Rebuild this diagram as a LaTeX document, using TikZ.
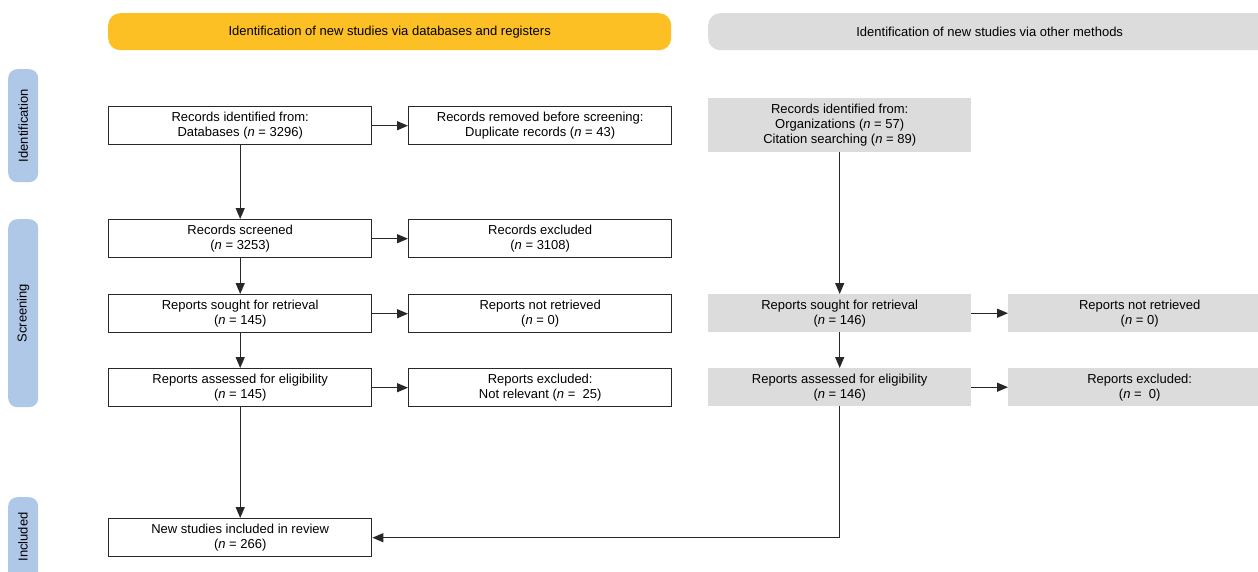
\documentclass[tikz,border=0pt]{standalone}
\usepackage{fontspec}
\setmainfont{Liberation Sans}
\usetikzlibrary{arrows.meta,positioning}
\definecolor{banyellow}{RGB}{253,192,36}
\definecolor{bangray}{RGB}{220,220,220}
\definecolor{phaseblue}{RGB}{175,200,232}
\definecolor{edgegray}{RGB}{40,40,40}
\tikzset{
  txt/.style={font=\fontsize{13}{15}\selectfont, align=center, text=black},
  wbox/.style={txt, draw=edgegray, line width=1.4pt, fill=white, anchor=north west,
    minimum width=263pt, minimum height=38pt, inner sep=0pt},
  gbox/.style={txt, fill=bangray, anchor=north west,
    minimum width=263pt, minimum height=38pt, inner sep=0pt},
  banner/.style={txt, rounded corners=12pt, anchor=north west, minimum height=37pt, inner sep=0pt},
  phase/.style={txt, fill=phaseblue, rounded corners=9pt, anchor=north west,
    minimum width=30pt, inner sep=0pt},
  conn/.style={draw=edgegray, line width=1.4pt, -{Triangle[length=11pt,width=9pt]}},
}
\newcommand{\nn}{\textit{n}}
\begin{document}
\begin{tikzpicture}[x=1pt,y=-1pt]
\useasboundingbox (0,0) rectangle (1258,571);
% banners
\node[banner, fill=banyellow, minimum width=563pt] (b1) at (108,13) {Identification of new studies via databases and registers};
\node[banner, fill=bangray, minimum width=563pt] (b2) at (708,13) {Identification of new studies via other methods};
% phases
\node[phase, minimum height=113pt] (p1) at (8,69) {};
\node[txt, rotate=90] (p1t) at (p1.center) {Identification};
\node[phase, minimum height=188pt] (p2) at (8,219) {};
\node[txt, rotate=90] (p2t) at (p2.center) {Screening};
\node[phase, minimum height=100pt] (p3) at (8,497) {};
\node[txt, rotate=90] (p3t) at (23,537) {Included};
% left column
\node[wbox] (idl) at (108,106) {Records identified from:\\Databases (\nn\ = 3296)};
\node[wbox] (rem) at (408,106) {Records removed before screening:\\Duplicate records (\nn\ = 43)};
\node[wbox] (scr) at (108,219) {Records screened\\(\nn\ = 3253)};
\node[wbox] (exc) at (408,219) {Records excluded\\(\nn\ = 3108)};
\node[wbox] (rsl) at (108,294) {Reports sought for retrieval\\(\nn\ = 145)};
\node[wbox] (nrl) at (408,294) {Reports not retrieved\\(\nn\ = 0)};
\node[wbox] (asl) at (108,368) {Reports assessed for eligibility\\(\nn\ = 145)};
\node[wbox] (rxl) at (408,368) {Reports excluded:\\Not relevant (\nn\ = \ 25)};
\node[wbox] (inc) at (108,518) {New studies included in review\\(\nn\ = 266)};
% right column
\node[gbox, minimum height=54pt] (ido) at (708,98) {Records identified from:\\Organizations (\nn\ = 57)\\Citation searching (\nn\ = 89)};
\node[gbox] (rso) at (708,294) {Reports sought for retrieval\\(\nn\ = 146)};
\node[gbox] (nro) at (1008,294) {Reports not retrieved\\(\nn\ = 0)};
\node[gbox] (aso) at (708,368) {Reports assessed for eligibility\\(\nn\ = 146)};
\node[gbox] (rxo) at (1008,368) {Reports excluded:\\(\nn\ = \ 0)};
% connectors left
\draw[conn] (idl.east) -- (rem.west);
\draw[conn] (idl.south) -- (scr.north);
\draw[conn] (scr.east) -- (exc.west);
\draw[conn] (scr.south) -- (rsl.north);
\draw[conn] (rsl.east) -- (nrl.west);
\draw[conn] (rsl.south) -- (asl.north);
\draw[conn] (asl.east) -- (rxl.west);
\draw[conn] (asl.south) -- (inc.north);
% connectors right
\draw[conn] (ido.south) -- (rso.north);
\draw[conn] (rso.east) -- (nro.west);
\draw[conn] (rso.south) -- (aso.north);
\draw[conn] (aso.east) -- (rxo.west);
\draw[conn] (aso.south) |- (inc.east);
\end{tikzpicture}
\end{document}
